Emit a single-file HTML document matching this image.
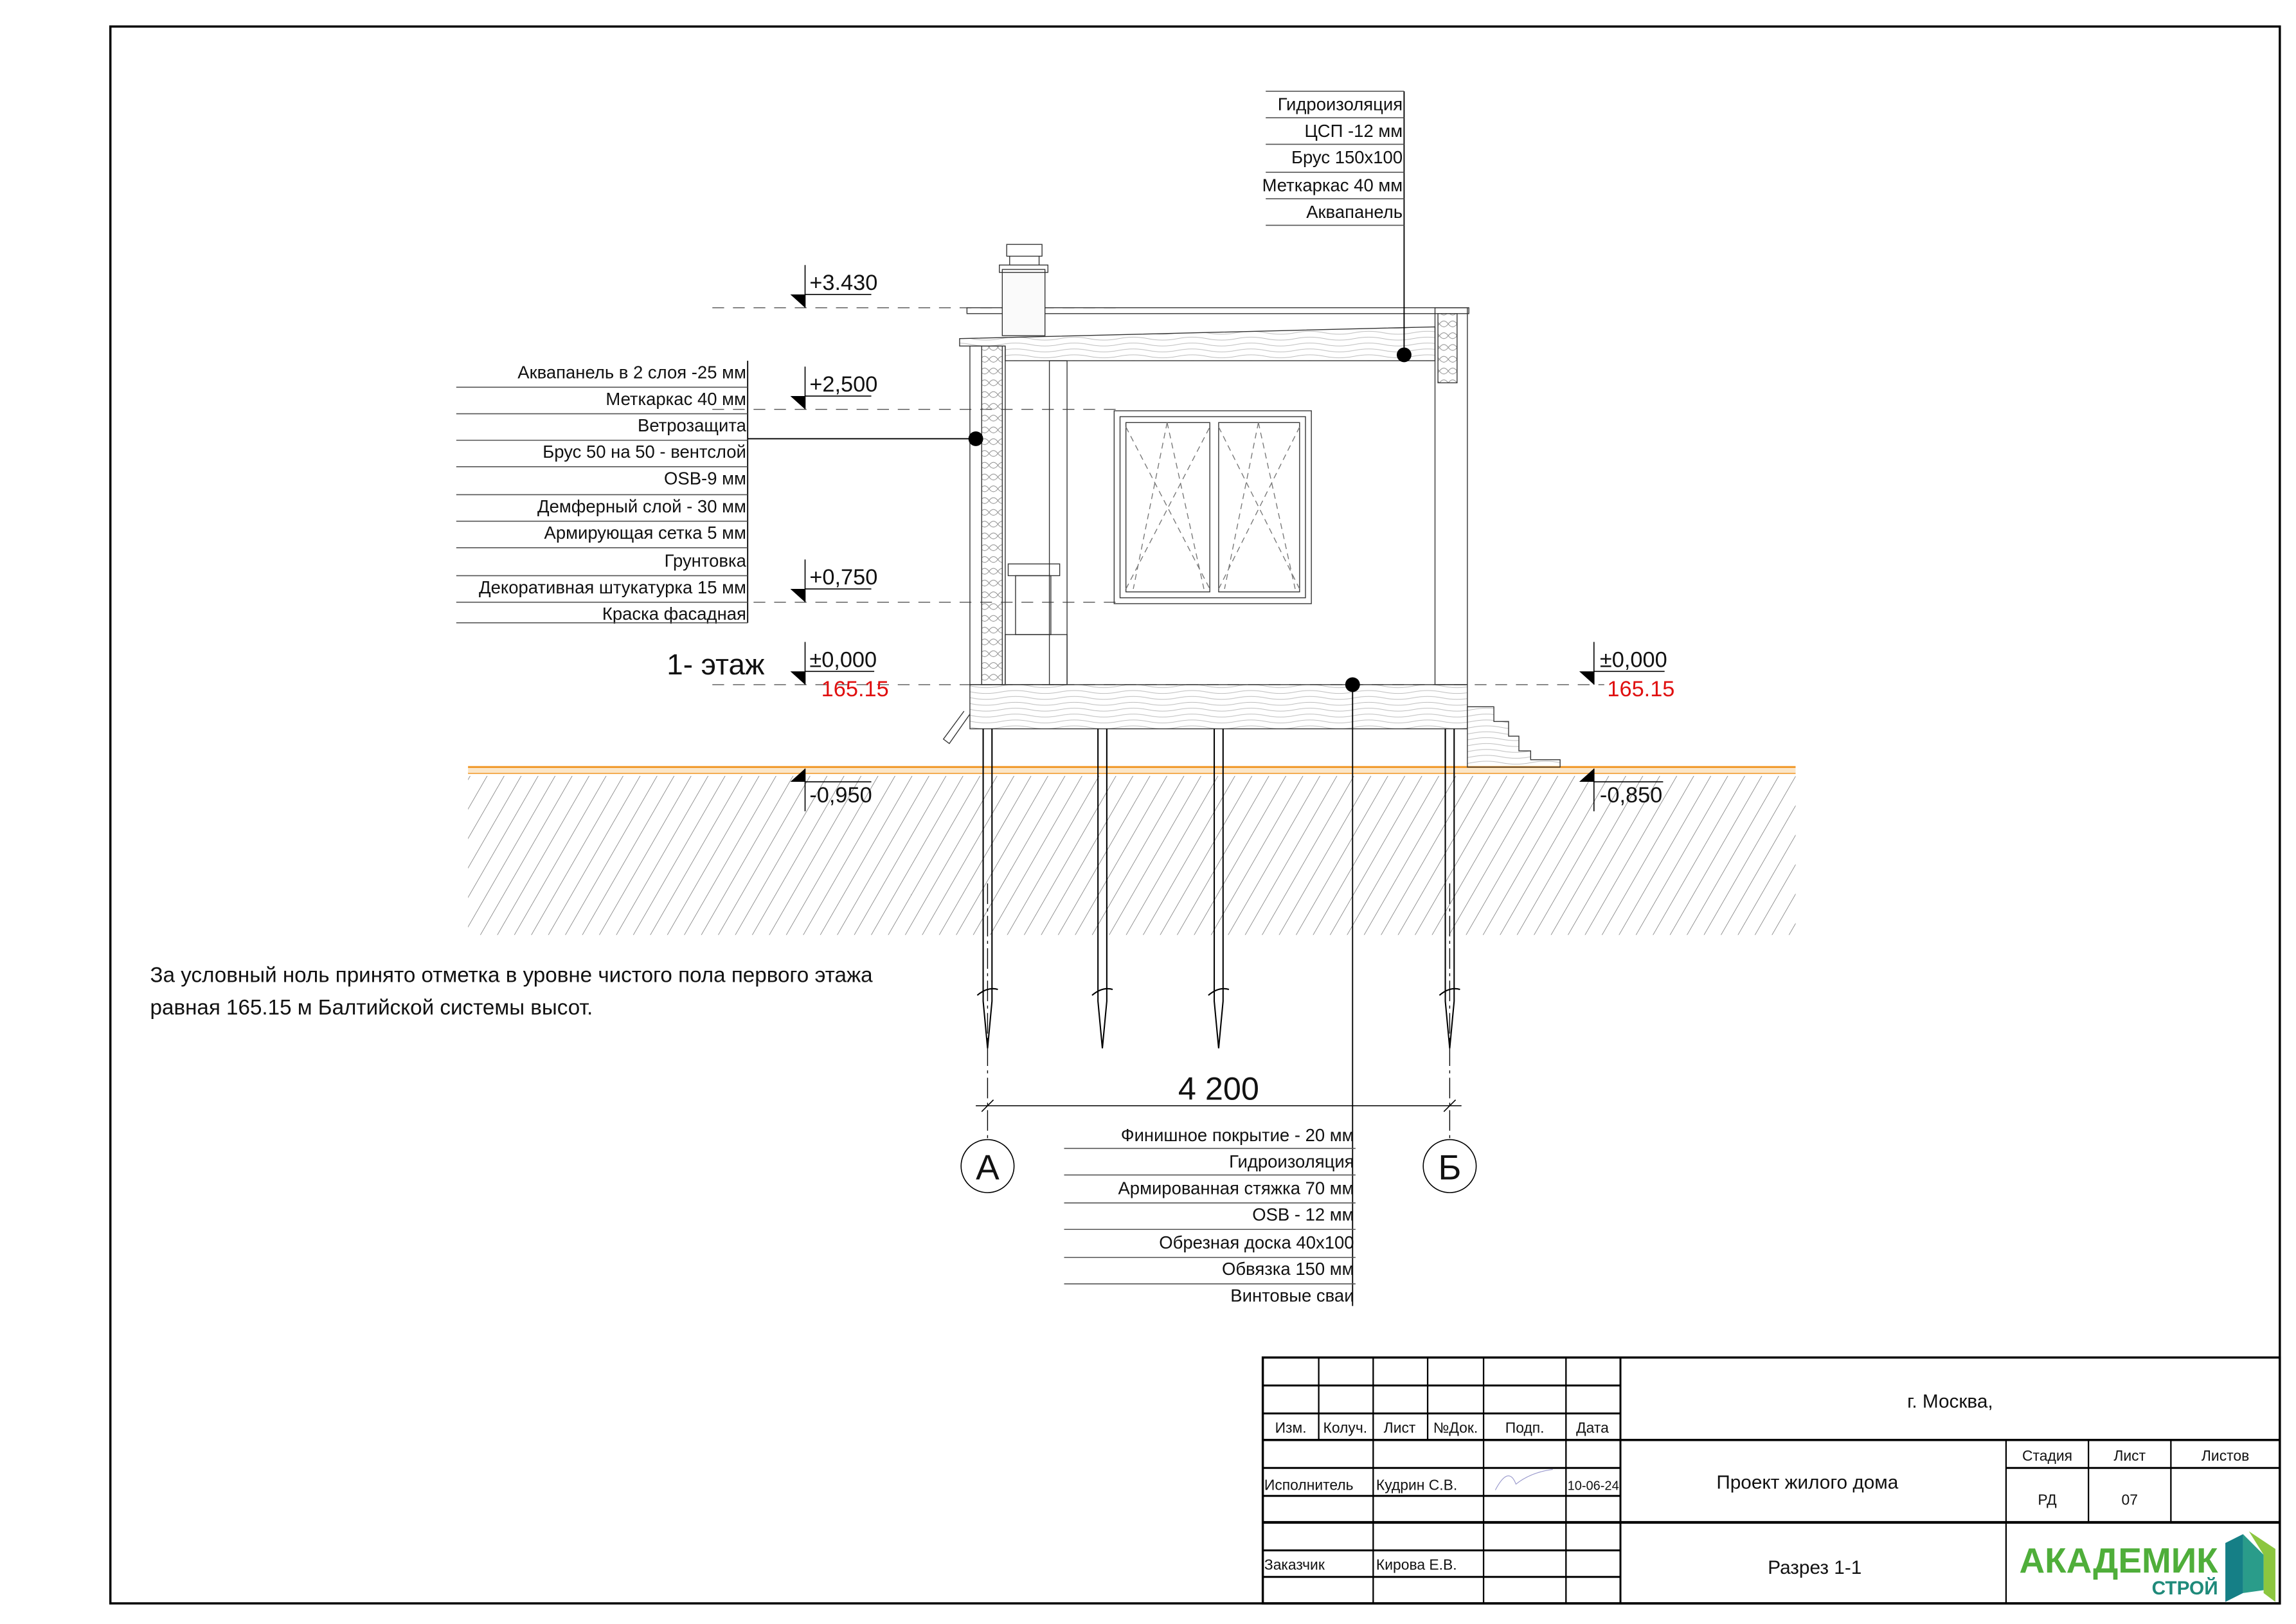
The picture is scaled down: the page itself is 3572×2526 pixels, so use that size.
<!DOCTYPE html>
<html><head><meta charset="utf-8"><style>
html,body{margin:0;padding:0;background:#fff}
svg{display:block}
text{font-family:"Liberation Sans Narrow","Liberation Sans",sans-serif;fill:#111}
</style></head><body>
<svg width="3572" height="2526" viewBox="0 0 1560 1103" preserveAspectRatio="none" xmlns="http://www.w3.org/2000/svg">
<defs>
<pattern id="h" width="10" height="10" patternUnits="userSpaceOnUse" patternTransform="rotate(30)">
<line x1="0" y1="0" x2="0" y2="10" stroke="#666" stroke-width="0.6"/></pattern>
<pattern id="ins" width="6" height="8" patternUnits="userSpaceOnUse">
<path d="M0 4 Q3 0 6 4 Q3 8 0 4" fill="none" stroke="#888" stroke-width="0.4"/></pattern>
<pattern id="wood" width="40" height="4" patternUnits="userSpaceOnUse">
<path d="M0 2 Q10 0 20 2 T40 2" fill="none" stroke="#bbb" stroke-width="0.4"/></pattern>
</defs>
<rect x="75" y="18" width="1474" height="1071" fill="none" stroke="#000" stroke-width="1.5"/>

<rect x="318" y="527" width="902" height="108" fill="url(#h)"/>
<line x1="318" y1="521" x2="1220" y2="521" stroke="#f0931e" stroke-width="1.3"/>
<line x1="318" y1="525" x2="1220" y2="525" stroke="#f0931e" stroke-width="1.3"/>
<rect x="318" y="522" width="902" height="3" fill="#fbe6c8"/>

<g stroke="#555" stroke-width="0.6" stroke-dasharray="8,6" fill="none">
<line x1="484" y1="209" x2="760" y2="209"/>
<line x1="484" y1="278" x2="760" y2="278"/>
<line x1="484" y1="409" x2="760" y2="409"/>
<line x1="484" y1="465" x2="1090" y2="465"/>
</g>

<g stroke="#333" stroke-width="0.6" fill="none">
<rect x="657" y="209" width="341" height="4"/>
<path d="M652 230 L975 222 L975 245 L683 245 L683 235 L652 235 Z" fill="url(#wood)"/>
<rect x="659" y="235" width="24" height="230"/>
<rect x="667" y="235" width="14" height="230" fill="url(#ins)"/>
<rect x="975" y="209" width="22" height="256"/>
<rect x="977" y="213" width="13" height="47" fill="url(#ins)"/>
<rect x="681" y="183" width="29" height="45" fill="#fafafa"/>
<rect x="679" y="180" width="33" height="5"/>
<rect x="684" y="166" width="24" height="8"/>
<line x1="686" y1="174" x2="686" y2="180"/><line x1="706" y1="174" x2="706" y2="180"/>
<rect x="713" y="245" width="12" height="220"/>
<rect x="685" y="383" width="35" height="8"/>
<rect x="690" y="391" width="24" height="40"/>
<rect x="683" y="431" width="42" height="34"/>
<rect x="757" y="279" width="134" height="131"/>
<rect x="761" y="283" width="126" height="123"/>
<rect x="765" y="287" width="57" height="115"/><rect x="828" y="287" width="55" height="115"/>
<g stroke-dasharray="4,3" stroke="#777"><path d="M765 290 L822 400 M765 400 L822 290 M793 287 L770 400 M793 287 L818 400 M828 290 L883 400 M828 400 L883 290 M855 287 L832 400 M855 287 L880 400"/></g>
<rect x="659" y="465" width="338" height="30" fill="url(#wood)"/>
<path d="M997 480 L1015 480 L1015 490 L1025 490 L1025 500 L1032 500 L1032 510 L1040 510 L1040 516 L1060 516 L1060 521 L997 521 Z" fill="url(#wood)"/>
<path d="M659 485 L645 505 L641 502 L655 483"/>
</g>

<g stroke="#000" stroke-width="0.9" fill="none">
<path d="M668 495 V680 L671 712 L674 680 V495"/>
<path d="M746 495 V680 L749 712 L752 680 V495"/>
<path d="M825 495 V680 L828 712 L831 680 V495"/>
<path d="M982 495 V680 L985 712 L988 680 V495"/>
<path d="M664 676 Q671 670 678 672 M742 676 Q749 670 756 672 M821 676 Q828 670 835 672 M978 676 Q985 670 992 672"/>
</g>
<g stroke="#000" stroke-width="0.6" stroke-dasharray="14,3,2,3" fill="none">
<line x1="671" y1="600" x2="671" y2="775"/><line x1="985" y1="600" x2="985" y2="775"/>
</g>
<g stroke="#000" stroke-width="0.7" fill="none">
<line x1="663" y1="751" x2="993" y2="751"/>
<line x1="667" y1="755" x2="675" y2="747"/><line x1="981" y1="755" x2="989" y2="747"/>
<circle cx="671" cy="792" r="18"/><circle cx="985" cy="792" r="18"/>
</g>
<text x="828" y="747" font-size="22" text-anchor="middle">4 200</text>
<text x="671" y="801" font-size="24" text-anchor="middle">А</text>
<text x="985" y="801" font-size="24" text-anchor="middle">Б</text>

<g stroke="#000" stroke-width="0.8">
<line x1="508" y1="298" x2="663" y2="298"/>
<line x1="954" y1="62" x2="954" y2="241"/>
<line x1="919" y1="465" x2="919" y2="887"/>
<line x1="508" y1="245" x2="508" y2="423"/>
</g>
<circle cx="663" cy="298" r="5"/><circle cx="954" cy="241" r="5"/><circle cx="919" cy="465" r="5"/>

<g font-size="12" text-anchor="end">
<text x="507" y="257">Аквапанель в 2 слоя -25 мм</text>
<text x="507" y="275">Меткаркас 40 мм</text>
<text x="507" y="293">Ветрозащита</text>
<text x="507" y="311">Брус 50 на 50 - вентслой</text>
<text x="507" y="329">OSB-9 мм</text>
<text x="507" y="348">Демферный слой - 30 мм</text>
<text x="507" y="366">Армирующая сетка 5 мм</text>
<text x="507" y="385">Грунтовка</text>
<text x="507" y="403">Декоративная штукатурка 15 мм</text>
<text x="507" y="421">Краска фасадная</text>
</g>
<g stroke="#555" stroke-width="0.7">
<line x1="310" y1="263" x2="508" y2="263"/><line x1="310" y1="281" x2="508" y2="281"/>
<line x1="310" y1="299" x2="508" y2="299"/><line x1="310" y1="317" x2="508" y2="317"/>
<line x1="310" y1="336" x2="508" y2="336"/><line x1="310" y1="354" x2="508" y2="354"/>
<line x1="310" y1="372" x2="508" y2="372"/><line x1="310" y1="391" x2="508" y2="391"/>
<line x1="310" y1="409" x2="508" y2="409"/><line x1="310" y1="423" x2="508" y2="423"/>
</g>

<g font-size="12" text-anchor="end">
<text x="953" y="75">Гидроизоляция</text>
<text x="953" y="93">ЦСП -12 мм</text>
<text x="953" y="111">Брус 150х100</text>
<text x="953" y="130">Меткаркас 40 мм</text>
<text x="953" y="148">Аквапанель</text>
</g>
<g stroke="#555" stroke-width="0.7">
<line x1="860" y1="62" x2="954" y2="62"/><line x1="860" y1="80" x2="954" y2="80"/>
<line x1="860" y1="98" x2="954" y2="98"/><line x1="860" y1="117" x2="954" y2="117"/>
<line x1="860" y1="135" x2="954" y2="135"/><line x1="860" y1="153" x2="954" y2="153"/>
</g>

<g font-size="12" text-anchor="end">
<text x="920" y="775">Финишное покрытие -  20 мм</text>
<text x="920" y="793">Гидроизоляция</text>
<text x="920" y="811">Армированная стяжка 70 мм</text>
<text x="920" y="829">OSB - 12 мм</text>
<text x="920" y="848">Обрезная доска 40х100</text>
<text x="920" y="866">Обвязка 150 мм</text>
<text x="920" y="884">Винтовые сваи</text>
</g>
<g stroke="#555" stroke-width="0.7">
<line x1="723" y1="780" x2="921" y2="780"/><line x1="723" y1="798" x2="921" y2="798"/>
<line x1="723" y1="817" x2="921" y2="817"/><line x1="723" y1="835" x2="921" y2="835"/>
<line x1="723" y1="854" x2="921" y2="854"/><line x1="723" y1="872" x2="921" y2="872"/>
</g>

<g stroke="#000" stroke-width="0.7" fill="none">
<path d="M547 180 V209 M547 200 H592"/>
<path d="M547 249 V278 M547 269 H592"/>
<path d="M547 380 V409 M547 400 H592"/>
<path d="M547 436 V465 M547 456 H594"/>
<path d="M547 522 V551 M547 531 H592"/>
<path d="M1083 436 V465 M1083 456 H1131"/>
<path d="M1083 522 V551 M1083 531 H1130"/>
</g>
<g fill="#000">
<path d="M537 200 H547 V209 Z"/><path d="M537 269 H547 V278 Z"/><path d="M537 400 H547 V409 Z"/>
<path d="M537 456 H547 V465 Z"/><path d="M537 531 H547 V522 Z"/>
<path d="M1073 456 H1083 V465 Z"/><path d="M1073 531 H1083 V522 Z"/>
</g>
<g font-size="15">
<text x="550" y="197">+3.430</text>
<text x="550" y="266">+2,500</text>
<text x="550" y="397">+0,750</text>
<text x="550" y="453">±0,000</text>
<text x="558" y="473" style="fill:#e01010">165.15</text>
<text x="550" y="545">-0,950</text>
<text x="1087" y="453">±0,000</text>
<text x="1092" y="473" style="fill:#e01010">165.15</text>
<text x="1087" y="545">-0,850</text>
</g>
<text x="453" y="458" font-size="20">1- этаж</text>

<text x="102" y="667" font-size="14.5">За условный ноль принято отметка в уровне чистого пола первого этажа</text>
<text x="102" y="689" font-size="14.5">равная 165.15 м Балтийской системы высот.</text>

<g stroke="#000" stroke-width="1" fill="none">
<rect x="858" y="922" width="691" height="167" stroke-width="1.5"/>
<line x1="896" y1="922" x2="896" y2="978"/><line x1="970" y1="922" x2="970" y2="978"/>
<line x1="933" y1="922" x2="933" y2="1089"/><line x1="1008" y1="922" x2="1008" y2="1089"/>
<line x1="1064" y1="922" x2="1064" y2="1089"/><line x1="1101" y1="922" x2="1101" y2="1089" stroke-width="1.3"/>
<line x1="858" y1="941" x2="1101" y2="941" stroke-width="1.3"/>
<line x1="858" y1="960" x2="1101" y2="960" stroke-width="1.3"/>
<line x1="858" y1="978" x2="1549" y2="978" stroke-width="1.5"/>
<line x1="858" y1="997" x2="1101" y2="997" stroke-width="1.3"/>
<line x1="858" y1="1016" x2="1101" y2="1016" stroke-width="1.3"/>
<line x1="858" y1="1034" x2="1549" y2="1034" stroke-width="1.8"/>
<line x1="858" y1="1053" x2="1101" y2="1053" stroke-width="1.3"/>
<line x1="858" y1="1071" x2="1101" y2="1071" stroke-width="1.3"/>
<line x1="1363" y1="978" x2="1363" y2="1089"/>
<line x1="1419" y1="978" x2="1419" y2="1034"/><line x1="1475" y1="978" x2="1475" y2="1034"/>
<line x1="1363" y1="997" x2="1549" y2="997" stroke-width="1.3"/>
</g>
<g font-size="10" text-anchor="middle">
<text x="877" y="973">Изм.</text><text x="914" y="973">Колуч.</text><text x="951" y="973">Лист</text>
<text x="989" y="973">№Док.</text><text x="1036" y="973">Подп.</text><text x="1082" y="973">Дата</text>
<text x="1391" y="992">Стадия</text><text x="1447" y="992">Лист</text><text x="1512" y="992">Листов</text>
<text x="1391" y="1022">РД</text><text x="1447" y="1022">07</text>
</g>
<g font-size="10">
<text x="859" y="1012">Исполнитель</text><text x="935" y="1012">Кудрин С.В.</text><text x="1065" y="1012" font-size="9" textLength="35" lengthAdjust="spacingAndGlyphs">10-06-24</text>
<text x="859" y="1066">Заказчик</text><text x="935" y="1066">Кирова Е.В.</text>
</g>
<path d="M1016 1012 Q1025 995 1030 1008 Q1040 1000 1055 998" stroke="#99c" stroke-width="0.5" fill="none"/>
<g font-size="13" text-anchor="middle">
<text x="1325" y="956">г. Москва,</text>
<text x="1228" y="1011">Проект жилого дома</text>
<text x="1233" y="1069">Разрез 1-1</text>
</g>
<text x="1372" y="1068" font-size="24" font-weight="bold" textLength="135" lengthAdjust="spacingAndGlyphs" style="fill:#4fae3a">АКАДЕМИК</text>
<text x="1462" y="1083" font-size="13" font-weight="bold" textLength="45" lengthAdjust="spacingAndGlyphs" style="fill:#1f8a7a">СТРОЙ</text>
<path d="M1512 1048 L1524 1042 L1524 1082 L1512 1088 Z" fill="#157f86"/>
<path d="M1524 1042 L1538 1056 L1538 1080 L1524 1082 Z" fill="#2a9c8a"/>
<path d="M1528 1040 L1546 1052 L1546 1088 L1538 1082 L1538 1056 Z" fill="#8cc63f"/>
</svg>
</body></html>
